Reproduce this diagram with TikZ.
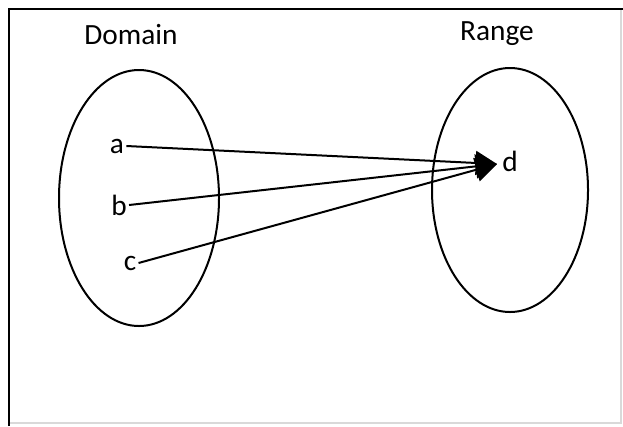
\documentclass[tikz,border=0pt]{standalone}
\usepackage{fontspec}
\setmainfont{Carlito}
\usetikzlibrary{arrows.meta, positioning}

\begin{document}
\begin{tikzpicture}[x=0.75pt, y=-0.75pt, line width=1.5pt,
  lbl/.style={font=\fontsize{22}{25}\selectfont, inner sep=1pt},
  maparrow/.style={-{Triangle[length=16pt, width=18pt]}}]
\useasboundingbox (0,0) rectangle (623,426);
% frame
\draw[black!15, line width=1.2pt] (10,423) -- (621,423) -- (621,10);
\draw[line width=1.6pt] (9,426) -- (9,9) -- (623,9);
% sets
\draw (139,198) ellipse [x radius=80, y radius=128];
\draw (510,190) ellipse [x radius=78, y radius=122];
\node[lbl] (domain) at (131,35) {Domain};
\node[lbl] (range) at (497,34) {Range};
% elements
\node[lbl] (a) at (117,146) {a};
\node[lbl] (b) at (119,205) {b};
\node[lbl] (c) at (130,263) {c};
\node[lbl] (d) at (510,161) {d};
\coordinate (tip) at (497,164);
\draw[maparrow] (a.east) -- (tip);
\draw[maparrow] (b.east) -- (tip);
\draw[maparrow] (c.east) -- (tip);
\end{tikzpicture}
\end{document}
